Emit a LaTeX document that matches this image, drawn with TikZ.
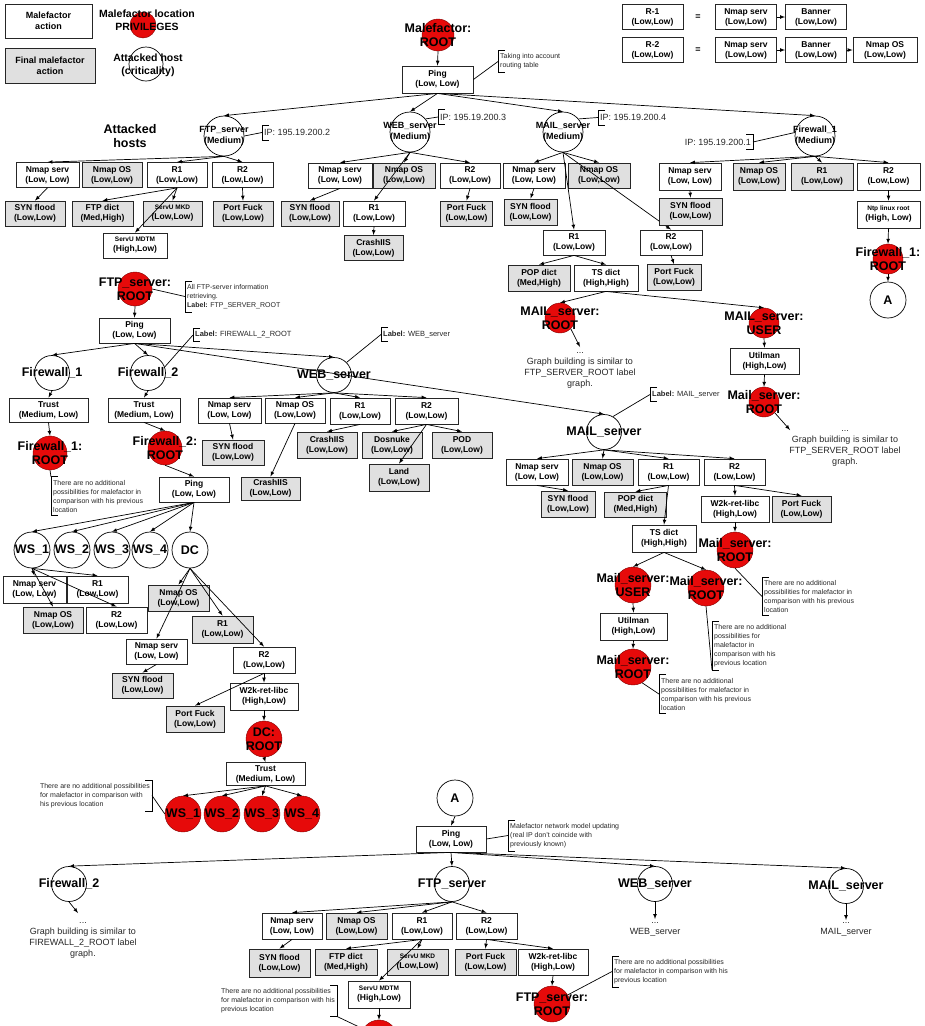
\documentclass[tikz,border=0pt]{standalone}
\usepackage{fontspec}
\setmainfont{Liberation Sans}
\usetikzlibrary{positioning,shapes,arrows}
\definecolor{privred}{RGB}{230,10,10}
\definecolor{fingray}{RGB}{224,224,224}
\newcommand{\boxfont}{\fontsize{8.5}{10}\selectfont\bfseries}
\newcommand{\boxsmall}{\fontsize{6.5}{8}\selectfont\bfseries}
\newcommand{\notefont}{\fontsize{7}{9}\selectfont}
\newcommand{\hostfont}{\fontsize{9}{11}\selectfont\bfseries}
\newcommand{\privfont}{\fontsize{12.5}{14}\selectfont\bfseries}
\newcommand{\tailfont}{\fontsize{9}{11}\selectfont}
\tikzstyle{act}=[draw=black!85,fill=white,line width=0.8pt,minimum width=61,minimum height=25,inner sep=1pt,align=center,font=\boxfont]
\tikzstyle{fin}=[act,fill=fingray]
\tikzstyle{host}=[draw,circle,fill=white,minimum size=40,inner sep=0pt,line width=0.7pt]
\tikzstyle{subhost}=[host,minimum size=35]
\tikzstyle{priv}=[draw=black!50!red,circle,fill=privred,minimum size=34,inner sep=0pt]
\tikzstyle{htxt}=[font=\hostfont,align=center]
\tikzstyle{bigtxt}=[font=\privfont,align=center]
\tikzstyle{lgtxt}=[font=\fontsize{10.5}{13}\selectfont\bfseries,align=center]
\tikzstyle{note}=[inner xsep=2pt,inner ysep=3pt,align=left,font=\notefont,text=black!85]
\tikzstyle{ipnote}=[note,font=\fontsize{9}{11}\selectfont,inner ysep=4pt]
\tikzstyle{lblnote}=[note,font=\fontsize{7.5}{9}\selectfont]
\tikzstyle{tailtxt}=[align=center,font=\tailfont,text=black!85,inner sep=0pt]
\tikzstyle{arr}=[-latex,line width=0.7pt]
\tikzstyle{lnk}=[line width=0.7pt]
% brackets of the comments
\newcommand{\lbrnote}[1]{\draw[lnk] ([xshift=7pt]#1.north west) -- (#1.north west) -- (#1.south west) -- ([xshift=7pt]#1.south west);}
\newcommand{\rbrnote}[1]{\draw[lnk] ([xshift=-7pt]#1.north east) -- (#1.north east) -- (#1.south east) -- ([xshift=-7pt]#1.south east);}

\begin{document}
\begin{tikzpicture}[x=1pt,y=-1pt]
  \useasboundingbox (0,0) rectangle (925,1026);
  \clip (0,0) rectangle (925,1026);

  % legend
  \node[act,minimum width=87,minimum height=34,font=\hostfont] (lgact) at (48.5,21) {Malefactor\\action};
  \node[fin,minimum width=90,minimum height=35,font=\hostfont] (lgfin) at (50,65.5) {Final malefactor\\action};
  \node[priv,minimum size=26] (lgpriv) at (143,25) {};
  \node[lgtxt] (lgprivt) at (147,20.5) {Malefactor location\\PRIVILEGES};
  \node[host,minimum size=34] (lghost) at (146,64) {};
  \node[lgtxt] (lghostt) at (148,65) {Attacked host\\(criticality)};
  \node[bigtxt] (atth) at (130,136) {Attacked\\hosts};

  \node[act] (r1def) at (652.5,17) {R-1\\(Low,Low)};
  \node[htxt] (eq1) at (698,17) {=};
  \node[act] (r1a) at (746,17) {Nmap serv\\(Low,Low)};
  \node[act] (r1b) at (816,17) {Banner\\(Low,Low)};
  \node[act] (r2def) at (652.5,50) {R-2\\(Low,Low)};
  \node[htxt] (eq2) at (698,50) {=};
  \node[act] (r2a) at (746,50) {Nmap serv\\(Low,Low)};
  \node[act] (r2b) at (816,50) {Banner\\(Low,Low)};
  \node[act,minimum width=64] (r2c) at (885,50) {Nmap OS\\(Low,Low)};
  \draw[arr] (r1a.east) -- (r1b.west);
  \draw[arr] (r2a.east) -- (r2b.west);
  \draw[arr] (r2b.east) -- (r2c.west);

  % first level
  \node[priv,minimum size=32,label={[bigtxt]center:{Malefactor:\\ROOT}}] (mal) at (438,35) {};
  \node[act,minimum width=71,minimum height=27] (ping0) at (437.5,79.5) {Ping\\(Low, Low)};
  \node[note,anchor=west] (nt0) at (498,61.5) {Taking into account\\routing table};
  \node[host,label={[htxt]center:{FTP\_server\\(Medium)}}] (ftp0) at (224,136) {};
  \node[host,label={[htxt]center:{WEB\_server\\(Medium)}}] (web0) at (410,132) {};
  \node[host,label={[htxt]center:{MAIL\_server\\(Medium)}}] (mail0) at (563,132) {};
  \node[host,label={[htxt]center:{Firewall\_1\\(Medium)}}] (fw0) at (815,136) {};
  \node[ipnote,anchor=west] (ip2) at (262,132.5) {IP: 195.19.200.2};
  \node[ipnote,anchor=west] (ip3) at (438,117) {IP: 195.19.200.3};
  \node[ipnote,anchor=west] (ip4) at (598,117.5) {IP: 195.19.200.4};
  \node[ipnote,anchor=east] (ip1) at (753,142) {IP: 195.19.200.1};
  \lbrnote{nt0} \lbrnote{ip2} \lbrnote{ip3} \lbrnote{ip4} \rbrnote{ip1}
  \draw[lnk] (ping0.east) -- (nt0.west);
  \draw[lnk] (ftp0.east) -- (ip2.west);
  \draw[lnk] (web0.40) -- (ip3.west);
  \draw[lnk] (mail0.40) -- (ip4.west);
  \draw[lnk] (ip1.east) -- (fw0.170);
  \draw[arr] (mal.south) -- (ping0.north);
  \draw[arr] (ping0.south) -- (ftp0.north);
  \draw[arr] (ping0.south) -- (web0.north);
  \draw[arr] (ping0.south) -- (mail0.north);
  \draw[arr] (ping0.south) -- (fw0.north);

  % FTP_server
  \node[act,minimum width=63] (f_ns) at (47.5,175) {Nmap serv\\(Low, Low)};
  \node[fin,minimum width=60] (f_os) at (112,175) {Nmap OS\\(Low,Low)};
  \node[act,minimum width=60] (f_r1) at (177,175) {R1\\(Low,Low)};
  \node[act] (f_r2) at (242.5,175) {R2\\(Low,Low)};
  \node[fin,minimum width=60] (f_syn) at (35,213.5) {SYN flood\\(Low,Low)};
  \node[fin] (f_dict) at (102.5,213.5) {FTP dict\\(Med,High)};
  \node[fin,minimum width=59] (f_mkd) at (172.5,213.5) {{\boxsmall ServU MKD}\\(Low,Low)};
  \node[fin,minimum width=60] (f_pf) at (243,213.5) {Port Fuck\\(Low,Low)};
  \node[act,minimum width=64] (f_mdtm) at (135,245.5) {{\boxsmall ServU MDTM}\\(High,Low)};
  \draw[arr] (ftp0.south) -- (f_ns.north);
  \draw[arr] (ftp0.south) -- (f_r1.north);
  \draw[arr] (ftp0.south) -- (f_r2.north);
  \draw[arr] (f_ns.south) -- (f_syn.north);
  \draw[arr] (f_r1.south) -- (f_dict.north);
  \draw[arr] (f_r1.south) -- (f_mkd.north);
  \draw[arr] (f_r1.south) -- (f_mdtm.north);
  \draw[arr] (f_r2.south) -- (f_pf.north);

  % WEB_server
  \node[act,minimum width=64] (w_ns) at (340,175.5) {Nmap serv\\(Low, Low)};
  \node[fin,minimum width=62] (w_os) at (404,175.5) {Nmap OS\\(Low,Low)};
  \node[act,minimum width=60] (w_r2) at (470,175.5) {R2\\(Low,Low)};
  \node[fin,minimum width=58] (w_syn) at (310,213.5) {SYN flood\\(Low,Low)};
  \node[act,minimum width=62] (w_r1) at (374,213.5) {R1\\(Low,Low)};
  \node[fin,minimum width=52] (w_pf) at (466.5,213.5) {Port Fuck\\(Low,Low)};
  \node[fin,minimum width=59] (w_crash) at (373.5,248) {CrashIIS\\(Low,Low)};
  \draw[arr] (web0.south) -- (w_ns.north);
  \draw[arr] (web0.south) -- (w_os.north);
  \draw[arr] (web0.south) -- (w_r2.north);
  \draw[arr] (web0.south) -- (w_r1.north);
  \draw[arr] (w_ns.south) -- (w_syn.north);
  \draw[arr] (w_r1.south) -- (w_crash.north);
  \draw[arr] (w_r2.south) -- (w_pf.north);

  % MAIL_server
  \node[act,minimum width=62] (m_ns) at (534,175.5) {Nmap serv\\(Low, Low)};
  \node[fin,minimum width=62] (m_os) at (599,175.5) {Nmap OS\\(Low,Low)};
  \node[fin,minimum width=53,minimum height=26] (m_syn) at (530.5,212) {SYN flood\\(Low,Low)};
  \node[act,minimum width=62] (m_r1) at (574,242.5) {R1\\(Low,Low)};
  \node[act,minimum width=62] (m_r2) at (671,242.5) {R2\\(Low,Low)};
  \node[fin,minimum width=62,minimum height=26] (m_pop) at (539,278) {POP dict\\(Med,High)};
  \node[act,minimum width=64,minimum height=26] (m_ts) at (606,278) {TS dict\\(High,High)};
  \node[fin,minimum width=54,minimum height=26] (m_pf) at (674,277.5) {Port Fuck\\(Low,Low)};
  \node[priv,minimum size=30,label={[bigtxt]center:{MAIL\_server:\\ROOT}}] (m_root) at (560,318) {};
  \node[priv,minimum size=30,label={[bigtxt]center:{MAIL\_server:\\USER}}] (m_user) at (764,323) {};
  \node[act,minimum width=69,minimum height=26] (m_util) at (764.5,361) {Utilman\\(High,Low)};
  \node[priv,minimum size=30,label={[bigtxt]center:{Mail\_server:\\ROOT}}] (m_root2) at (764,402) {};
  \coordinate (m_end) at (580,347);
  \coordinate (m_end2) at (790,430);
  \node[tailtxt,anchor=north] (m_txt) at (580,352) {...\\Graph building is similar to\\FTP\_SERVER\_ROOT label\\graph.};
  \node[tailtxt,anchor=north] (m_txt2) at (845,430) {...\\Graph building is similar to\\FTP\_SERVER\_ROOT label\\graph.};
  \draw[arr] (mail0.south) -- (m_ns.north);
  \draw[arr] (mail0.south) -- (m_os.north);
  \draw[arr] (mail0.south) -- (m_r1.north);
  \draw[arr] (mail0.south) -- (m_r2.north);
  \draw[arr] (m_ns.south) -- (m_syn.north);
  \draw[arr] (m_r1.south) -- (m_pop.north);
  \draw[arr] (m_r1.south) -- (m_ts.north);
  \draw[arr] (m_r2.south) -- (m_pf.north);
  \draw[arr] (m_ts.south) -- (m_root.north);
  \draw[arr] (m_ts.south) -- (m_user.north);
  \draw[arr] (m_user.south) -- (m_util.north);
  \draw[arr] (m_util.south) -- (m_root2.north);
  \draw[arr] (m_root.south east) -- (m_end);
  \draw[arr] (m_root2.south east) -- (m_end2);

  % Firewall_1
  \node[act,minimum width=62,minimum height=27] (fw_ns) at (690,176.5) {Nmap serv\\(Low, Low)};
  \node[fin,minimum width=52,minimum height=27] (fw_os) at (759,176.5) {Nmap OS\\(Low,Low)};
  \node[fin,minimum width=62,minimum height=27] (fw_r1) at (822,176.5) {R1\\(Low,Low)};
  \node[act,minimum width=63,minimum height=27] (fw_r2) at (888.5,176.5) {R2\\(Low,Low)};
  \node[fin,minimum width=63,minimum height=27] (fw_syn) at (690.5,211.5) {SYN flood\\(Low,Low)};
  \node[act,minimum width=63,minimum height=27] (fw_ntp) at (888.5,214.5) {{\boxsmall Ntp linux root}\\(High, Low)};
  \node[priv,minimum size=30,label={[bigtxt]center:{Firewall\_1:\\ROOT}}] (fw_root) at (888,259) {};
  \node[host,minimum size=36,label={[bigtxt]center:A}] (fw_a) at (888,300) {};
  \draw[arr] (fw0.south) -- (fw_ns.north);
  \draw[arr] (fw0.south) -- (fw_os.north);
  \draw[arr] (fw0.south) -- (fw_r1.north);
  \draw[arr] (fw0.south) -- (fw_r2.north);
  \draw[arr] (fw_ns.south) -- (fw_syn.north);
  \draw[arr] (fw_r2.south) -- (fw_ntp.north);
  \draw[arr] (fw_ntp.south) -- (fw_root.north);
  \draw[arr] (fw_root.south) -- (fw_a.north);

  % FTP_server ROOT
  \node[priv,label={[bigtxt]center:{FTP\_server:\\ROOT}}] (s_root) at (135,289) {};
  \node[note,anchor=west] (nt1) at (185,296.5) {All FTP-server information\\retrieving.\\\textbf{Label:} FTP\_SERVER\_ROOT};
  \node[act,minimum width=71] (s_ping) at (134.5,330.5) {Ping\\(Low, Low)};
  \node[lblnote,anchor=west] (nt2) at (193,335) {\textbf{Label:} FIREWALL\_2\_ROOT};
  \node[subhost,label={[bigtxt]center:Firewall\_1}] (s_fw1) at (52,373) {};
  \node[subhost,label={[bigtxt]center:Firewall\_2}] (s_fw2) at (148,373) {};
  \node[subhost,label={[bigtxt]center:WEB\_server}] (s_web) at (334,375) {};
  \node[lblnote,anchor=west] (nt3) at (381,334.5) {\textbf{Label:} WEB\_server};
  \node[subhost,label={[bigtxt]center:MAIL\_server}] (s_mail) at (604,432) {};
  \node[lblnote,anchor=west] (nt4) at (650,394.5) {\textbf{Label:} MAIL\_server};
  \lbrnote{nt1} \lbrnote{nt2} \lbrnote{nt3} \lbrnote{nt4}
  \draw[lnk] (s_root.east) -- (nt1.west);
  \draw[lnk] (s_fw2.20) -- (nt2.west);
  \draw[lnk] (s_web.45) -- (nt3.west);
  \draw[lnk] (s_mail.60) -- (nt4.west);
  \draw[arr] (s_root.south) -- (s_ping.north);
  \draw[arr] (s_ping.south) -- (s_fw1.north);
  \draw[arr] (s_ping.south) -- (s_fw2.north);
  \draw[arr] (s_ping.south) -- (s_web.north);
  \draw[arr] (s_ping.south) -- (s_mail.north);

  % Firewall_1 branch
  \node[act,minimum width=79,minimum height=24] (a_trust) at (48.5,410) {Trust\\(Medium, Low)};
  \node[priv,label={[bigtxt]center:{Firewall\_1:\\ROOT}}] (a_root) at (50,453) {};
  \node[note,anchor=west] (nt5) at (51,496) {There are no additional\\possibilities for malefactor in\\comparison with his previous\\location};
  \lbrnote{nt5}
  \draw[lnk] (a_root.south) -- (nt5.north west);
  \draw[arr] (s_fw1.south) -- (a_trust.north);
  \draw[arr] (a_trust.south) -- (a_root.north);

  % Firewall_2 branch
  \node[act,minimum width=72,minimum height=24] (b_trust) at (144,410) {Trust\\(Medium, Low)};
  \node[priv,label={[bigtxt]center:{Firewall\_2:\\ROOT}}] (b_root) at (165,448) {};
  \node[act,minimum width=70] (b_ping) at (194,489.5) {Ping\\(Low, Low)};
  \node[subhost,minimum size=36,label={[bigtxt]center:WS\_1}] (b_ws1) at (32,550) {};
  \node[subhost,minimum size=36,label={[bigtxt]center:WS\_2}] (b_ws2) at (72,550) {};
  \node[subhost,minimum size=36,label={[bigtxt]center:WS\_3}] (b_ws3) at (112,550) {};
  \node[subhost,minimum size=36,label={[bigtxt]center:WS\_4}] (b_ws4) at (150,550) {};
  \node[subhost,minimum size=36,label={[bigtxt]center:DC}] (b_dc) at (190,550) {};
  \draw[arr] (s_fw2.south) -- (b_trust.north);
  \draw[arr] (b_trust.south) -- (b_root.north);
  \draw[arr] (b_root.south) -- (b_ping.north);
  \draw[arr] (b_ping.south) -- (b_ws1.north);
  \draw[arr] (b_ping.south) -- (b_ws2.north);
  \draw[arr] (b_ping.south) -- (b_ws3.north);
  \draw[arr] (b_ping.south) -- (b_ws4.north);
  \draw[arr] (b_ping.south) -- (b_dc.north);

  \node[act,minimum width=63,minimum height=27] (c_ns) at (34.5,589.5) {Nmap serv\\(Low, Low)};
  \node[act,minimum height=27] (c_r1) at (97.5,589.5) {R1\\(Low,Low)};
  \node[fin,minimum width=60,minimum height=26] (c_os) at (53,620) {Nmap OS\\(Low,Low)};
  \node[act,minimum height=26] (c_r2) at (116.5,620) {R2\\(Low,Low)};
  \draw[arr] (b_ws1.south) -- (c_ns.north);
  \draw[arr] (b_ws1.south) -- (c_r1.north);
  \draw[arr] (b_ws1.south) -- (c_os.north);
  \draw[arr] (b_ws1.south) -- (c_r2.north);

  \node[fin,minimum height=26] (d_os) at (178.5,598) {Nmap OS\\(Low,Low)};
  \node[fin,minimum height=27] (d_r1) at (222.5,629.5) {R1\\(Low,Low)};
  \node[act] (d_ns) at (156.5,651.5) {Nmap serv\\(Low, Low)};
  \node[act,minimum width=62,minimum height=26] (d_r2) at (264,660) {R2\\(Low,Low)};
  \node[fin] (d_syn) at (142.5,685.5) {SYN flood\\(Low,Low)};
  \node[act,minimum width=68,minimum height=27] (d_w2k) at (264,696.5) {W2k-ret-libc\\(High,Low)};
  \node[fin,minimum width=58,minimum height=26] (d_pf) at (195,719) {Port Fuck\\(Low,Low)};
  \node[priv,minimum size=36,label={[bigtxt]center:{DC:\\ROOT}}] (d_root) at (264,739) {};
  \node[act,minimum width=79,minimum height=23] (d_trust) at (265.5,774) {Trust\\(Medium, Low)};
  \draw[arr] (b_dc.south) -- (d_os.north);
  \draw[arr] (b_dc.south) -- (d_r1.north);
  \draw[arr] (b_dc.south) -- (d_r2.north);
  \draw[arr] (b_dc.south) -- (d_ns.north);
  \draw[arr] (d_ns.south) -- (d_syn.north);
  \draw[arr] (d_r2.south) -- (d_w2k.north);
  \draw[arr] (d_r2.south) -- (d_pf.north);
  \draw[arr] (d_w2k.south) -- (d_root.north);
  \draw[arr] (d_root.south) -- (d_trust.north);

  \node[priv,minimum size=36,label={[bigtxt]center:WS\_1}] (e_ws1) at (183,814) {};
  \node[priv,minimum size=36,label={[bigtxt]center:WS\_2}] (e_ws2) at (222,814) {};
  \node[priv,minimum size=36,label={[bigtxt]center:WS\_3}] (e_ws3) at (262,814) {};
  \node[priv,minimum size=36,label={[bigtxt]center:WS\_4}] (e_ws4) at (302,814) {};
  \node[note,anchor=east] (nt6) at (152,795.5) {There are no additional possibilities\\for malefactor in comparison with\\his previous location};
  \rbrnote{nt6}
  \draw[lnk] (nt6.east) -- (e_ws1.west);
  \draw[arr] (d_trust.south) -- (e_ws1.north);
  \draw[arr] (d_trust.south) -- (e_ws2.north);
  \draw[arr] (d_trust.south) -- (e_ws3.north);
  \draw[arr] (d_trust.south) -- (e_ws4.north);

  % WEB_server branch
  \node[act,minimum width=63] (g_ns) at (229.5,410.5) {Nmap serv\\(Low, Low)};
  \node[act,minimum width=60] (g_os) at (295,410.5) {Nmap OS\\(Low,Low)};
  \node[act,minimum width=60,minimum height=26] (g_r1) at (360,411) {R1\\(Low,Low)};
  \node[act,minimum width=63,minimum height=26] (g_r2) at (426.5,411) {R2\\(Low,Low)};
  \node[fin,minimum width=62] (g_syn) at (233,452.5) {SYN flood\\(Low,Low)};
  \node[fin,minimum width=60,minimum height=26] (g_crash) at (327,445) {CrashIIS\\(Low,Low)};
  \node[fin,minimum width=60,minimum height=26] (g_dos) at (392,445) {Dosnuke\\(Low,Low)};
  \node[fin,minimum width=60,minimum height=26] (g_pod) at (462,445) {POD\\(Low,Low)};
  \node[fin,minimum width=60,minimum height=27] (g_land) at (399,477.5) {Land\\(Low,Low)};
  \node[fin,minimum width=59,minimum height=23] (g_crash2) at (270.5,488.5) {CrashIIS\\(Low,Low)};
  \draw[arr] (s_web.south) -- (g_ns.north);
  \draw[arr] (s_web.south) -- (g_os.north);
  \draw[arr] (s_web.south) -- (g_r1.north);
  \draw[arr] (s_web.south) -- (g_r2.north);
  \draw[arr] (g_ns.south) -- (g_syn.north);
  \draw[arr] (g_os.south) -- (g_crash2.north);
  \draw[arr] (g_r1.south) -- (g_crash.north);
  \draw[arr] (g_r2.south) -- (g_dos.north);
  \draw[arr] (g_r2.south) -- (g_pod.north);
  \draw[arr] (g_r2.south) -- (g_land.north);

  % MAIL_server branch
  \node[act,minimum width=62,minimum height=26] (h_ns) at (537,472) {Nmap serv\\(Low, Low)};
  \node[fin,minimum height=26] (h_os) at (602.5,472) {Nmap OS\\(Low,Low)};
  \node[act,minimum height=26] (h_r1) at (668.5,472) {R1\\(Low,Low)};
  \node[act,minimum height=26] (h_r2) at (734.5,472) {R2\\(Low,Low)};
  \node[fin,minimum width=54,minimum height=26] (h_syn) at (568,504) {SYN flood\\(Low,Low)};
  \node[fin,minimum width=62] (h_pop) at (635.5,504.5) {POP dict\\(Med,High)};
  \node[act,minimum width=68,minimum height=26] (h_w2k) at (735,509) {W2k-ret-libc\\(High,Low)};
  \node[fin,minimum width=59,minimum height=26] (h_pf) at (801.5,509) {Port Fuck\\(Low,Low)};
  \node[act,minimum width=64,minimum height=27] (h_ts) at (664,538.5) {TS dict\\(High,High)};
  \node[priv,minimum size=36,label={[bigtxt]center:{Mail\_server:\\ROOT}}] (h_root1) at (735,550) {};
  \node[priv,minimum size=36,label={[bigtxt]center:{Mail\_server:\\USER}}] (h_user) at (633,585) {};
  \node[priv,minimum size=36,label={[bigtxt]center:{Mail\_server:\\ROOT}}] (h_root2) at (706,588) {};
  \node[act,minimum width=67,minimum height=27] (h_util) at (633.5,626.5) {Utilman\\(High,Low)};
  \node[priv,minimum size=36,label={[bigtxt]center:{Mail\_server:\\ROOT}}] (h_root3) at (633,667) {};
  \node[note,anchor=west] (nt7) at (762,596.5) {There are no additional\\possibilities for malefactor in\\comparison with his previous\\location};
  \node[note,anchor=west] (nt8) at (712,645.5) {There are no additional\\possibilities for\\malefactor in\\comparison with his\\previous location};
  \node[note,anchor=west] (nt9) at (659,694) {There are no additional\\possibilities for malefactor in\\comparison with his previous\\location};
  \lbrnote{nt7} \lbrnote{nt8} \lbrnote{nt9}
  \draw[lnk] (h_root1.south) -- (nt7.west);
  \draw[lnk] (h_root2.south) -- (nt8.south west);
  \draw[lnk] (h_root3.300) -- (nt9.west);
  \draw[arr] (s_mail.south) -- (h_ns.north);
  \draw[arr] (s_mail.south) -- (h_os.north);
  \draw[arr] (s_mail.south) -- (h_r1.north);
  \draw[arr] (s_mail.south) -- (h_r2.north);
  \draw[arr] (h_ns.south) -- (h_syn.north);
  \draw[arr] (h_r1.south) -- (h_pop.north);
  \draw[arr] (h_r1.south) -- (h_ts.north);
  \draw[arr] (h_r2.south) -- (h_w2k.north);
  \draw[arr] (h_r2.south) -- (h_pf.north);
  \draw[arr] (h_w2k.south) -- (h_root1.north);
  \draw[arr] (h_ts.south) -- (h_user.north);
  \draw[arr] (h_ts.south) -- (h_root2.north);
  \draw[arr] (h_user.south) -- (h_util.north);
  \draw[arr] (h_util.south) -- (h_root3.north);

  % after A
  \node[host,minimum size=36,label={[bigtxt]center:A}] (k_a) at (455,798) {};
  \node[act,minimum width=70,minimum height=26] (k_ping) at (451,839) {Ping\\(Low, Low)};
  \node[note,anchor=west] (nt10) at (508,835.5) {Malefactor network model updating\\(real IP don't coincide with\\previously known)};
  \lbrnote{nt10}
  \draw[lnk] (k_ping.east) -- (nt10.west);
  \node[subhost,label={[bigtxt]center:Firewall\_2}] (k_fw2) at (69,884) {};
  \node[subhost,label={[bigtxt]center:FTP\_server}] (k_ftp) at (452,884) {};
  \node[subhost,label={[bigtxt]center:WEB\_server}] (k_web) at (655,884) {};
  \node[subhost,label={[bigtxt]center:MAIL\_server}] (k_mail) at (846,886) {};
  \coordinate (k_fwend) at (78,913);
  \coordinate (k_webend) at (655,919);
  \coordinate (k_mailend) at (846,920);
  \node[tailtxt,anchor=north] (k_fwtxt) at (83,922) {...\\Graph building is similar to\\FIREWALL\_2\_ROOT label\\graph.};
  \node[tailtxt,anchor=north] (k_webtxt) at (655,922) {...\\WEB\_server};
  \node[tailtxt,anchor=north] (k_mailtxt) at (846,922) {...\\MAIL\_server};
  \draw[arr] (k_a.south) -- (k_ping.north);
  \draw[arr] (k_ping.south) -- (k_fw2.north);
  \draw[arr] (k_ping.south) -- (k_ftp.north);
  \draw[arr] (k_ping.south) -- (k_web.north);
  \draw[arr] (k_ping.south) -- (k_mail.north);
  \draw[arr] (k_fw2.south) -- (k_fwend);
  \draw[arr] (k_web.south) -- (k_webend);
  \draw[arr] (k_mail.south) -- (k_mailend);

  \node[act,minimum width=60,minimum height=26] (n_ns) at (292,926) {Nmap serv\\(Low, Low)};
  \node[fin,minimum height=26] (n_os) at (356.5,926) {Nmap OS\\(Low,Low)};
  \node[act,minimum width=60,minimum height=26] (n_r1) at (422,926) {R1\\(Low,Low)};
  \node[act,minimum height=26] (n_r2) at (486.5,926) {R2\\(Low,Low)};
  \node[fin,minimum height=28] (n_syn) at (279.5,963) {SYN flood\\(Low,Low)};
  \node[fin,minimum width=62,minimum height=26] (n_dict) at (346,962) {FTP dict\\(Med,High)};
  \node[fin,minimum height=26] (n_mkd) at (417.5,962) {{\boxsmall ServU MKD}\\(Low,Low)};
  \node[fin,minimum height=26] (n_pf) at (485.5,962) {Port Fuck\\(Low,Low)};
  \node[act,minimum width=70,minimum height=26] (n_w2k) at (553,962) {W2k-ret-libc\\(High,Low)};
  \node[act,minimum width=62,minimum height=27] (n_mdtm) at (379,994.5) {{\boxsmall ServU MDTM}\\(High,Low)};
  \node[priv,minimum size=36,label={[bigtxt]center:{FTP\_server:\\ROOT}}] (n_root) at (552,1004) {};
  \node[priv,minimum size=36] (n_root2) at (379,1038) {};
  \node[note,anchor=west] (nt11) at (612,971.5) {There are no additional possibilities\\for malefactor in comparison with his\\previous location};
  \node[note,anchor=east] (nt12) at (337,1001) {There are no additional possibilities\\for malefactor in comparison with his\\previous location};
  \lbrnote{nt11} \rbrnote{nt12}
  \draw[lnk] (n_root.30) -- (nt11.west);
  \draw[lnk] (nt12.south east) -- (n_root2.150);
  \draw[arr] (k_ftp.south) -- (n_ns.north);
  \draw[arr] (k_ftp.south) -- (n_os.north);
  \draw[arr] (k_ftp.south) -- (n_r1.north);
  \draw[arr] (k_ftp.south) -- (n_r2.north);
  \draw[arr] (n_ns.south) -- (n_syn.north);
  \draw[arr] (n_r1.south) -- (n_dict.north);
  \draw[arr] (n_r1.south) -- (n_mkd.north);
  \draw[arr] (n_r1.south) -- (n_mdtm.north);
  \draw[arr] (n_r2.south) -- (n_pf.north);
  \draw[arr] (n_r2.south) -- (n_w2k.north);
  \draw[arr] (n_w2k.south) -- (n_root.north);
  \draw[arr] (n_mdtm.south) -- (n_root2.north);
\end{tikzpicture}
\end{document}
